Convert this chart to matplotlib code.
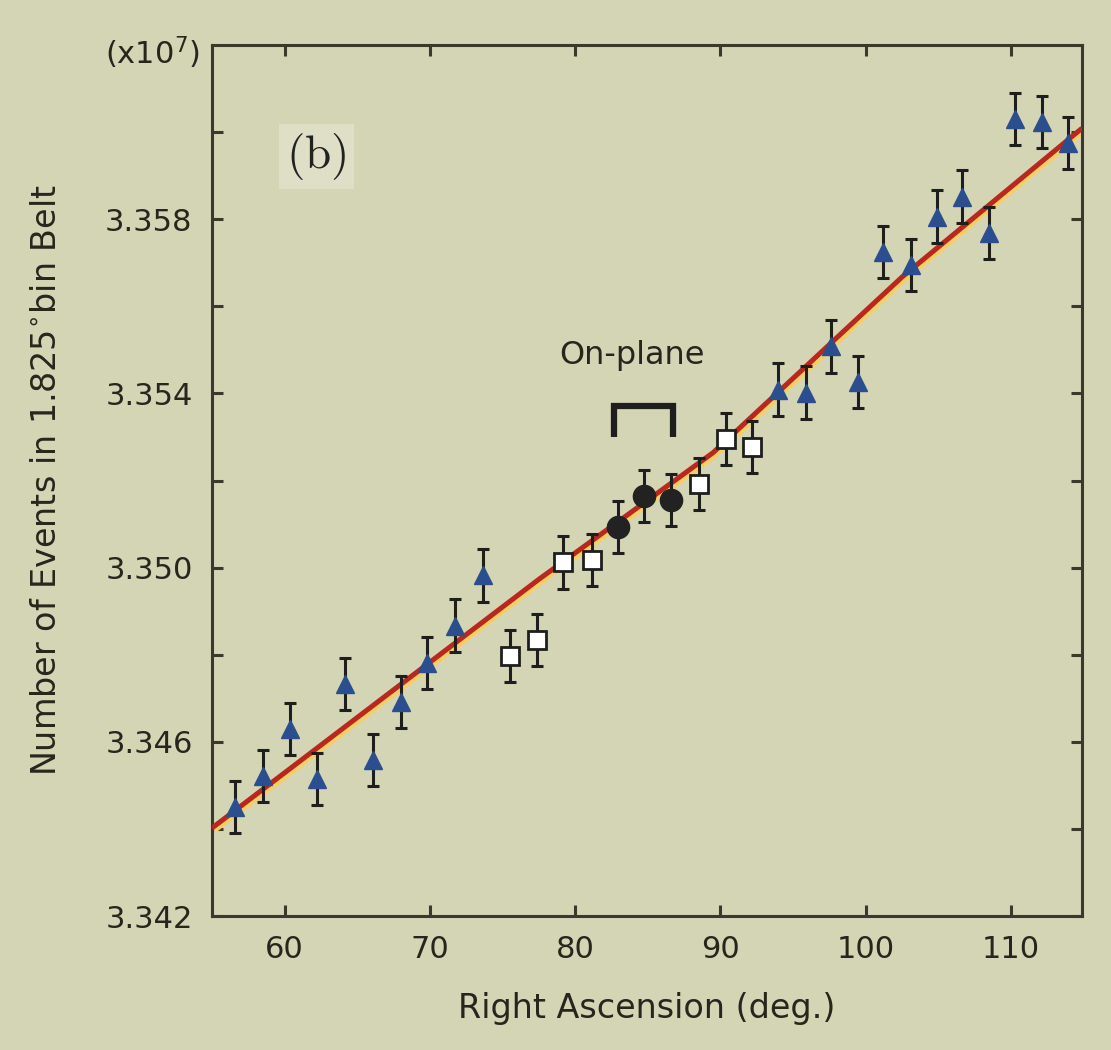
import matplotlib
matplotlib.use("Agg")
import matplotlib.pyplot as plt
import matplotlib.transforms as mtransforms

# ---- data ----
tri_x = [56.56, 58.48, 60.34, 62.20, 64.13, 66.06, 67.99, 69.78, 71.71, 73.64,
         93.95, 95.88, 97.60, 99.46, 101.18, 103.11, 104.90, 106.62, 108.48,
         110.28, 112.13, 113.93]
tri_y = [3.34451, 3.34521, 3.34629, 3.34514, 3.34733, 3.34558, 3.34691, 3.34781,
         3.34867, 3.34982,
         3.35409, 3.35402, 3.35508, 3.35427, 3.35725, 3.35695, 3.35806, 3.35852,
         3.35769, 3.36030, 3.36024, 3.35975]
sq_x = [75.50, 77.36, 79.15, 81.14, 88.51, 90.37, 92.16]
sq_y = [3.34797, 3.34834, 3.35012, 3.35017, 3.35192, 3.35296, 3.35277]
circ_x = [82.93, 84.72, 86.58]
circ_y = [3.35093, 3.35164, 3.35155]
err = 0.0006

fit_x = [55.0, 77.5, 89.5, 102.5, 114.9]
fit_y = [3.34402, 3.34973, 3.35264, 3.35667, 3.36009]

xticks = [60, 70, 80, 90, 100, 110]
yticks_major = [3.342, 3.346, 3.350, 3.354, 3.358]
yticks_all = [3.342, 3.344, 3.346, 3.348, 3.350, 3.352, 3.354, 3.356, 3.358, 3.360]

bracket_x = [82.66, 82.66, 86.72, 86.72]
bracket_y = [3.3530, 3.3537, 3.3537, 3.3530]

# ---- styling ----
bg = '#d3d5b5'
ink = '#26261c'
spine_c = '#3a3a2c'
plt.rcParams['font.family'] = ['DejaVu Sans']

fig = plt.figure(figsize=(11.11, 10.5), dpi=100, facecolor=bg)
ax = fig.add_axes([0.1908, 0.1276, 0.7831, 0.8295], facecolor=bg)
ax.set_xlim(55, 114.9)
ax.set_ylim(3.342, 3.362)

# fit line: yellow highlight under a red line
shadow = mtransforms.offset_copy(ax.transData, fig=fig, x=2.0, y=-2.5, units='dots')
ax.plot(fit_x, fit_y, color='#f7cf62', lw=4.0, transform=shadow, zorder=2,
        solid_capstyle='butt')
ax.plot(fit_x, fit_y, color='#b8281e', lw=3.6, zorder=3, solid_capstyle='butt')

ekw = dict(fmt='none', ecolor='#1e1e1e', elinewidth=2.2, capsize=4.0, capthick=2.2,
           zorder=4, clip_on=False)
ax.errorbar(tri_x, tri_y, yerr=err, **ekw)
ax.errorbar(sq_x, sq_y, yerr=err, **ekw)
ax.errorbar(circ_x, circ_y, yerr=err, **ekw)

ax.plot(tri_x, tri_y, linestyle='none', marker='^', ms=13, mfc='#2b4f8e',
        mec='#2b4f8e', zorder=5, clip_on=False)
ax.plot(sq_x, sq_y, linestyle='none', marker='s', ms=13, mfc='white',
        mec='#1e1e1e', mew=2.0, zorder=5)
ax.plot(circ_x, circ_y, linestyle='none', marker='o', ms=16, mfc='#222222',
        mec='#222222', zorder=5)

# On-plane annotation
ax.plot(bracket_x, bracket_y, color='#1e1e1e', lw=4.5, solid_joinstyle='miter',
        solid_capstyle='butt', zorder=5)
ax.text(83.9, 3.35487, 'On-plane', fontsize=23, color=ink, ha='center', va='center')

# panel label
ax.text(62.2, 3.35944, r'$\mathrm{(b)}$', math_fontfamily='cm', fontsize=34,
        color='#222222', ha='center', va='center',
        bbox=dict(boxstyle='square,pad=0.15', facecolor='#dedfc6', edgecolor='none'))

# axes, ticks
for s in ax.spines.values():
    s.set_color(spine_c)
    s.set_linewidth(2.2)
ax.set_xticks(xticks)
ax.set_xticklabels([str(t) for t in xticks])
ax.set_yticks(yticks_all)
ax.set_yticklabels([('%.3f' % t) if any(abs(t - m) < 1e-9 for m in yticks_major) else ''
                    for t in yticks_all])
ax.tick_params(axis='both', direction='in', length=8, width=2.2, color=spine_c,
               labelsize=22, labelcolor=ink, top=True, right=True, pad=14)

ax.set_xlabel('Right Ascension (deg.)', fontsize=24, color=ink, labelpad=20)
ax.set_ylabel(r'Number of Events in 1.825$^{\circ}$bin Belt', fontsize=24,
              color=ink, labelpad=30)

fig.text(0.180, 0.950, r'(x10$^7$)', fontsize=22, color=ink, ha='right', va='center')

fig.savefig('out.png', dpi=100, facecolor=bg)
